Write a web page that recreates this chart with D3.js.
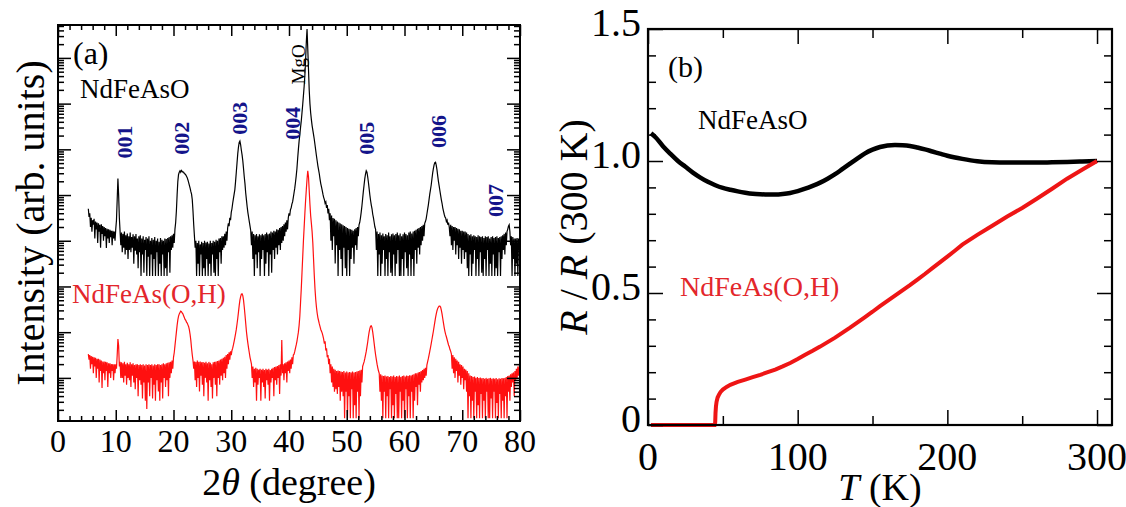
<!DOCTYPE html>
<html><head><meta charset="utf-8">
<script src="https://cdn.jsdelivr.net/npm/d3@7"></script>
<style>
body{margin:0;background:#fff}
svg{display:block}
</style>
</head><body>
<svg id="c" width="1126" height="507"></svg>
<script>
// ---------- Panel (a): XRD, log10(intensity) ----------
// each segment: [start 2theta, values at 0.125 degree steps]
const xrdStep = 0.125;
const xrdBlack = [
 [5.25,[4.70,4.52,4.60,4.30,4.50,4.20,4.45,4.35,4.48,4.05,4.42,4.25,4.40,3.95,4.38,4.20,4.35,3.85,4.36,4.15,4.32,4.00,4.30,4.10,4.28,3.84,4.26,4.05,4.25,3.95,4.24,4.08,4.22,3.90,4.22,4.05,4.20,4.00,4.25,4.45,4.90,5.36,5.00,4.50,4.20,3.90]],
 [11.0,[4.18,3.75,4.15,3.85,4.2,3.7,4.12,3.8,4.16,3.6,4.1,3.8,4.18,3.75,4.08,3.85,4.14,3.5,4.1,3.78,4.15,3.7,4.05,3.4,4.1,3.75,4.12,3.23,4.05,3.7,4.1,3.3,4.02,3.8,4.08,3.23,4.05,3.65,4.1,3.23,4.0,3.7,4.06,3.23,4.02,3.6,4.08,3.23,4.0,3.75,4.05,3.23,3.98,3.5,4.06,3.23,4.02,3.7,4.0,3.23,4.05,3.4,4.04,3.23,4.06,3.75,4.08,3.3,4.1,3.8,4.12,3.85,4.15,3.95,4.25]],
 [20.375,[4.4,4.65,5.0,5.3,5.45,5.5,5.53,5.5,5.54,5.52,5.5,5.5,5.47,5.46,5.44,5.41,5.38,5.33,5.27,5.21,5.15,5.08,5.02,4.9,4.65,4.35,4.1,3.85]],
 [23.875,[4.0,3.23,3.95,3.5,4.0,3.23,3.92,3.7,3.98,3.23,3.95,3.4,4.0,3.23,3.96,3.6,3.98,3.23,3.94,3.5,4.0,3.23,3.95,3.7,4.0,3.3,3.98,3.23,4.02,3.6,4.0,3.23,4.05,3.75,4.06,3.5,4.1,3.8,4.1,3.85,4.15,3.9,4.2,4.0,4.28]],
 [29.5,[4.38,4.32,4.5,4.45,4.62,4.7,4.82,4.92,5.02,5.12,5.3,5.5,5.7,5.9,6.05,6.15,6.18,6.1,5.98,5.88,5.75,5.58,5.4,5.25,5.05,4.9,4.75,4.62,4.52,4.42,4.32,4.22,3.9]],
 [33.625,[4.2,3.6,4.15,3.23,4.12,3.7,4.15,3.4,4.1,3.75,4.14,3.23,4.12,3.6,4.15,3.8,4.12,3.23,4.15,3.5,4.18,3.75,4.14,3.23,4.16,3.7,4.2,3.3,4.18,3.8,4.22,3.6,4.2,3.85,4.25,3.7,4.24,3.9,4.28,3.8,4.3,3.95,4.32,4.0,4.36,4.1,4.4,4.2,4.45,4.25,4.5]],
 [40.0,[4.6,4.55,4.68,4.72,4.8,4.85,4.95,5.05,5.15,5.28,5.42,5.58,5.8,6.0,6.18,6.32,6.48,6.62,6.8,6.98,7.18,7.38,7.62,7.95,8.35,8.63,8.2,7.75,7.3,7.0,6.8,6.65,6.52,6.42,6.32,6.22,6.1,5.98,5.86,5.75,5.64,5.55,5.46,5.35,5.25,5.18,5.1,5.02,4.95,4.9,4.82,4.85,4.72,4.78,4.6,4.7,4.45]],
 [47.125,[4.6,4.0,4.55,3.8,4.5,4.1,4.48,3.5,4.45,3.9,4.42,3.23,4.4,3.8,4.38,3.6,4.36,3.23,4.34,3.85,4.32,3.4,4.3,3.23,4.28,3.8,4.26,3.23,4.25,3.6,4.24,3.85,4.22,3.5,4.25,3.9,4.28,3.8,4.3,4.1]],
 [52.125,[4.35,4.4,4.5,4.62,4.76,4.92,5.08,5.22,5.36,5.46,5.53,5.5,5.4,5.28,5.14,5.0,4.88,4.78,4.7,4.58,4.5,4.4,4.3,4.25,3.8]],
 [55.25,[4.2,3.23,4.15,3.7,4.18,3.23,4.12,3.5,4.16,3.8,4.1,3.23,4.15,3.6,4.12,3.23,4.18,3.75,4.1,3.3,4.14,3.23,4.16,3.7,4.12,3.23,4.15,3.5,4.18,3.8,4.12,3.23,4.16,3.23,4.1,3.6,4.14,3.23,4.18,3.75,4.15,3.4,4.12,3.23,4.18,3.7,4.2,3.23,4.16,3.6,4.2,3.23,4.22,3.8,4.24,3.5,4.26,3.85,4.28,3.7,4.3,3.9,4.32,4.0,4.35,4.1]],
 [63.5,[4.38,4.42,4.48,4.58,4.68,4.78,4.9,5.02,5.12,5.22,5.35,5.48,5.58,5.66,5.71,5.72,5.65,5.55,5.42,5.3,5.2,5.1,5.0,4.9,4.82,4.72,4.65,4.58,4.52,4.5,4.42,4.45,4.35,4.4,4.3,4.1]],
 [68.0,[4.35,3.9,4.32,3.8,4.3,4.0,4.3,3.7,4.28,3.9,4.26,3.6,4.25,3.85,4.22,3.5,4.22,3.8,4.2,3.6,4.2,3.75,4.18,3.4]],
 [71.0,[4.15,3.23,4.12,3.7,4.14,3.23,4.1,3.5,4.12,3.8,4.1,3.23,4.08,3.6,4.12,3.23,4.1,3.75,4.08,3.3,4.1,3.23,4.06,3.6,4.1,3.23,4.08,3.8,4.1,3.23,4.05,3.5,4.08,3.23,4.1,3.7,4.06,3.23,4.08,3.4,4.1,3.23,4.06,3.75,4.08,3.23,4.1,3.6,4.12,3.8,4.15,3.7,4.18,3.9]],
 [77.75,[4.2,4.25,4.32,4.35,4.2,3.9,4.1,3.23,4.08,3.6,4.05,3.23,4.05,3.5,4.06,3.23,4.05,3.8,4.08]]
];
const xrdRed = [
 [5.25,[1.52,1.4,1.5,1.2,1.48,1.3,1.46,1.1,1.45,1.25,1.44,1.0,1.42,1.2,1.42,0.9,1.4,1.15,1.38,0.78,1.36,1.1,1.36,0.95,1.35,1.15,1.34,0.8,1.32,1.1,1.32,1.0,1.3,1.15,1.3,0.95,1.3,1.1,1.3,1.2,1.5,1.85,1.7,1.25,1.35,1.0]],
 [11.0,[1.34,1.0,1.32,0.9,1.35,1.05,1.3,0.85,1.33,1.0,1.3,0.95,1.34,0.8,1.3,1.05,1.32,0.9,1.28,0.75,1.3,1.0,1.3,0.6,1.28,0.95,1.3,0.85,1.28,0.55,1.3,0.9,1.27,0.5,1.3,0.32,1.28,0.9,1.3,0.6,1.28,1.0,1.3,0.55,1.27,0.85,1.3,0.5,1.28,0.95,1.3,0.7,1.3,0.5,1.28,0.9,1.3,0.55,1.32,1.0,1.3,0.8,1.32,0.95,1.33,0.6,1.34,1.0,1.35,1.1,1.38,1.2,1.45]],
 [20.125,[1.55,1.7,1.85,2.0,2.15,2.27,2.35,2.4,2.43,2.46,2.45,2.42,2.4,2.36,2.32,2.28,2.26,2.22,2.2,2.16,2.12,2.05,1.95,1.82,1.65,1.5,1.38,1.2,1.36,0.95]],
 [23.875,[1.35,0.8,1.38,1.0,1.35,0.7,1.36,1.05,1.34,0.85,1.35,0.6,1.33,1.0,1.35,0.9,1.32,0.5,1.35,0.95,1.33,0.8,1.3,0.55,1.34,1.0,1.35,0.85,1.36,0.6,1.37,1.0,1.38,0.85,1.4,1.05,1.42,0.95,1.44,1.1,1.46,1.0,1.5,1.2,1.52,1.3,1.56,1.4,1.58,1.5]],
 [30.125,[1.6,1.65,1.72,1.8,1.88,1.97,2.06,2.18,2.3,2.44,2.58,2.7,2.78,2.83,2.84,2.8,2.7,2.55,2.38,2.2,2.02,1.88,1.76,1.65,1.55,1.45,1.38,1.3,1.0]],
 [33.75,[1.25,0.8,1.2,0.9,1.22,0.5,1.2,0.85,1.18,1.0,1.2,0.5,1.18,0.9,1.2,0.8,1.17,0.55,1.2,0.95,1.18,0.85,1.2,0.5,1.17,0.9,1.2,1.0,1.22,0.6,1.24,0.95,1.25,0.85,1.26,1.0,1.28,0.65,1.3,1.05,1.83,1.1,1.3,0.95,1.32,1.1,1.34,0.9,1.36,1.15,1.38,1.1,1.4,1.2,1.45,1.3,1.5]],
 [40.875,[1.52,1.58,1.65,1.72,1.8,1.9,2.0,2.15,2.35,2.65,2.95,3.3,3.65,4.0,4.3,4.6,4.88,5.12,5.35,5.53,5.4,5.1,4.8,4.55,4.38,4.2,3.95,3.6,3.25,2.95,2.72,2.55,2.42,2.32,2.25,2.18,2.12,2.06,2.02,1.98,1.92,1.85,1.75,1.8,1.6,1.65,1.45,1.5,1.3,1.42,1.1,1.3,0.9,1.25,0.8]],
 [47.75,[1.2,0.7,1.18,0.75,1.15,0.65,1.16,0.8,1.15,0.5,1.14,0.7,1.13,0.6,1.15,0.12,1.12,0.7,1.14,0.12,1.12,0.6,1.13,0.12,1.12,0.75,1.14,0.12,1.12,0.4,1.13,0.12,1.14,0.7,1.15,0.12,1.16,0.6,1.18,0.9]],
 [52.75,[1.25,1.3,1.35,1.42,1.5,1.58,1.68,1.78,1.9,2.0,2.08,2.13,2.14,2.1,2.0,1.88,1.75,1.62,1.5,1.4,1.3,1.22,1.15,1.1,0.7,1.08]],
 [56.0,[0.5,1.05,0.12,1.04,0.7,1.05,0.12,1.03,0.6,1.04,0.12,1.02,0.75,1.04,0.12,1.03,0.4,1.05,0.12,1.02,0.65,1.04,0.12,1.03,0.12,1.05,0.7,1.02,0.12,1.04,0.5,1.05,0.12,1.03,0.75,1.05,0.12,1.04,0.6,1.06,0.12,1.05,0.7,1.07,0.12,1.08,0.5,1.1,0.8,1.1,0.4,1.12,0.85,1.13,0.7,1.15,0.9,1.17,0.95,1.2,1.0,1.22,1.05]],
 [63.875,[1.28,1.35,1.42,1.5,1.58,1.66,1.75,1.84,1.93,2.02,2.12,2.22,2.32,2.4,2.47,2.52,2.55,2.57,2.57,2.55,2.48,2.4,2.3,2.2,2.1,2.02,1.95,1.9,1.84,1.78,1.72,1.68,1.62,1.58,1.52]],
 [68.25,[1.2,1.5,1.1,1.45,1.0,1.42,1.15,1.38,0.9,1.35,1.05,1.3,0.85,1.28,1.0,1.25,0.75,1.2,0.95,1.18,0.7,1.15]],
 [71.0,[0.12,1.1,0.6,1.05,0.12,1.04,0.5,1.02,0.12,1.03,0.7,1.0,0.12,1.02,0.4,1.0,0.12,1.01,0.65,0.99,0.12,1.0,0.5,0.98,0.12,1.0,0.7,0.98,0.12,0.99,0.12,1.0,0.55,0.98,0.12,0.99,0.7,0.98,0.12,1.0,0.45,0.97,0.12,0.99,0.65,0.98,0.12,1.0,0.5,0.99,0.12,1.0,0.6,1.02,0.12,1.04,0.7,1.05,0.5]],
 [78.375,[1.08,0.8,1.1,0.9,1.12,0.6,1.15,0.95,1.2,1.0,1.25,1.05,1.24,1.22]]
];

const xTicksA = [0,10,20,30,40,50,60,70,80];
const peakNames = ["001","002","003","004","005","006","007"];
const peakLabelAngle = [11.4,21.3,31.4,40.5,53.3,65.8,75.7];
const peakLabelLog = [5.80,5.88,6.32,6.21,5.88,6.03,4.52];

// ---------- Panel (b): normalized resistance ----------
const rBlack = [[2,1.105],[5,1.09],[10,1.056],[15,1.027],[20,1.0],[25,0.978],[30,0.956],[35,0.937],[40,0.921],[45,0.908],[50,0.898],[55,0.891],[60,0.885],[65,0.88],[70,0.876],[75,0.874],[80,0.873],[85,0.873],[90,0.875],[95,0.879],[100,0.886],[105,0.895],[110,0.906],[115,0.918],[120,0.933],[125,0.95],[130,0.97],[135,0.99],[140,1.01],[145,1.029],[150,1.043],[155,1.053],[160,1.059],[165,1.061],[170,1.06],[175,1.057],[180,1.051],[185,1.044],[190,1.036],[195,1.028],[200,1.02],[210,1.008],[220,0.999],[230,0.995],[240,0.994],[250,0.994],[260,0.994],[270,0.995],[280,0.996],[290,0.998],[300,1.0]];
const rRed = [[2,0],[44.5,0],[44.9,0.01],[45.1,0.045],[45.4,0.07],[45.8,0.088],[46.5,0.104],[47.5,0.116],[48.5,0.125],[50,0.134],[52.5,0.144],[55,0.152],[60,0.163],[65,0.172],[70,0.181],[75,0.19],[80,0.2],[85,0.21],[90,0.222],[95,0.235],[100,0.25],[105,0.266],[110,0.281],[115,0.297],[120,0.314],[125,0.331],[130,0.35],[135,0.369],[140,0.389],[145,0.409],[150,0.429],[155,0.45],[160,0.47],[165,0.49],[170,0.51],[175,0.53],[180,0.551],[185,0.572],[190,0.594],[195,0.616],[200,0.638],[205,0.66],[210,0.683],[220,0.72],[230,0.755],[240,0.79],[250,0.822],[260,0.858],[270,0.895],[280,0.933],[290,0.967],[300,1.0]];
const xTicksB = [0,100,200,300];
const yTicksB = [0,0.5,1.0,1.5];
const yTickLabelsB = ["0","0.5","1.0","1.5"];

// ---------- drawing ----------
const FONT = "Liberation Serif";
const svg = d3.select("#c");
const RED = "#ff1010", NAVY = "#14148a", TXTRED = "#e3262b";
const flatten = segs => segs.flatMap(([s,vals]) => vals.map((v,i)=>[s+i*xrdStep, v]));

// Panel a
const A = {l:58, r:520, t:25, b:421};
const xA = d3.scaleLinear().domain([0,80]).range([A.l,A.r]);
const yA = d3.scaleLog().domain([Math.pow(10,0.057), Math.pow(10,8.72)]).range([A.b,A.t]);
const gA = svg.append("g");
gA.append("clipPath").attr("id","clipA").append("rect")
  .attr("x",A.l).attr("y",A.t).attr("width",A.r-A.l).attr("height",A.b-A.t);
const lineA = d3.line().x(d=>xA(d[0])).y(d=>yA(Math.pow(10,d[1])));
gA.append("path").datum(flatten(xrdBlack)).attr("d",lineA).attr("fill","none")
  .attr("stroke","#000").attr("stroke-width",1.2).attr("clip-path","url(#clipA)");
gA.append("path").datum(flatten(xrdRed)).attr("d",lineA).attr("fill","none")
  .attr("stroke",RED).attr("stroke-width",1.2).attr("clip-path","url(#clipA)");

function styleAxis(g){ g.select(".domain").remove(); g.selectAll("line").attr("stroke","#000").attr("stroke-width",1.5); g.selectAll("text").remove(); }
const xMinorA = d3.range(0,81,2).filter(v=>v%10!==0);
gA.append("g").attr("transform",`translate(0,${A.b})`).call(d3.axisBottom(xA).tickValues(xMinorA).tickSize(-5)).call(styleAxis);
gA.append("g").attr("transform",`translate(0,${A.b})`).call(d3.axisBottom(xA).tickValues(xTicksA).tickSize(-11)).call(styleAxis);
gA.append("g").attr("transform",`translate(0,${A.t})`).call(d3.axisTop(xA).tickValues(xMinorA).tickSize(-5)).call(styleAxis);
gA.append("g").attr("transform",`translate(0,${A.t})`).call(d3.axisTop(xA).tickValues(xTicksA).tickSize(-11)).call(styleAxis);
const dom = yA.domain();
const logMajor = [], logMinor = [];
for (let k=0;k<=9;k++) for (let m=1;m<=9;m++){ const v=m*Math.pow(10,k); if (v>=dom[0] && v<=dom[1]) (m===1?logMajor:logMinor).push(v); }
gA.append("g").attr("transform",`translate(${A.l},0)`).call(d3.axisLeft(yA).tickValues(logMinor).tickSize(-6)).call(styleAxis);
gA.append("g").attr("transform",`translate(${A.l},0)`).call(d3.axisLeft(yA).tickValues(logMajor).tickSize(-13)).call(styleAxis);
gA.append("g").attr("transform",`translate(${A.r},0)`).call(d3.axisRight(yA).tickValues(logMinor).tickSize(-6)).call(styleAxis);
gA.append("g").attr("transform",`translate(${A.r},0)`).call(d3.axisRight(yA).tickValues(logMajor).tickSize(-13)).call(styleAxis);
gA.append("rect").attr("x",A.l).attr("y",A.t).attr("width",A.r-A.l).attr("height",A.b-A.t)
  .attr("fill","none").attr("stroke","#000").attr("stroke-width",2);
gA.selectAll("text.xl").data(xTicksA).join("text").attr("class","xl")
  .attr("x",d=>xA(d)).attr("y",452).attr("text-anchor","middle").attr("font-size",32).text(d=>d);
const tA = gA.append("text").attr("x",(A.l+A.r)/2).attr("y",495).attr("text-anchor","middle").attr("font-size",38);
tA.append("tspan").text("2");
tA.append("tspan").attr("font-style","italic").text("\u03B8");
tA.append("tspan").text(" (degree)");
gA.append("text").attr("transform",`translate(44,${(A.t+A.b)/2}) rotate(-90)`).attr("text-anchor","middle")
  .attr("font-size",40).text("Intensity (arb. units)");
gA.append("text").attr("x",73).attr("y",64).attr("font-size",32).text("(a)");
gA.append("text").attr("x",80).attr("y",98).attr("font-size",27).text("NdFeAsO");
gA.append("text").attr("x",72).attr("y",303).attr("font-size",27).attr("fill",TXTRED).text("NdFeAs(O,H)");
gA.selectAll("text.pk").data(peakNames).join("text").attr("class","pk")
  .attr("transform",(d,i)=>`translate(${xA(peakLabelAngle[i])},${yA(Math.pow(10,peakLabelLog[i]))}) rotate(-90)`)
  .attr("dy","0.35em").attr("font-size",22).attr("font-weight","bold").attr("fill",NAVY).text(d=>d);
gA.append("text").attr("transform",`translate(${xA(41.6)},${yA(Math.pow(10,7.42))}) rotate(-90)`)
  .attr("dy","0.35em").attr("font-size",19).text("MgO");

// Panel b
const B = {l:648, r:1112, t:29, b:425};
const xB = d3.scaleLinear().domain([0,310]).range([B.l,B.r]);
const yB = d3.scaleLinear().domain([0,1.5]).range([B.b,B.t]);
const gB = svg.append("g");
const lineB = d3.line().x(d=>xB(d[0])).y(d=>yB(d[1])).curve(d3.curveMonotoneX);
gB.append("path").datum(rBlack).attr("d",lineB).attr("fill","none").attr("stroke","#000").attr("stroke-width",4.5);
gB.append("path").datum(rRed).attr("d",d3.line().x(d=>xB(d[0])).y(d=>yB(d[1]))).attr("fill","none").attr("stroke","#ee1515").attr("stroke-width",4);
const xMinorB = [50,150,250];
const yMinorB = d3.range(1,15).filter(v=>v%5!==0).map(v=>v/10);
gB.append("g").attr("transform",`translate(0,${B.b})`).call(d3.axisBottom(xB).tickValues(xMinorB).tickSize(-9)).call(styleAxis);
gB.append("g").attr("transform",`translate(0,${B.b})`).call(d3.axisBottom(xB).tickValues(xTicksB).tickSize(-15)).call(styleAxis);
gB.append("g").attr("transform",`translate(0,${B.t})`).call(d3.axisTop(xB).tickValues(xMinorB).tickSize(-9)).call(styleAxis);
gB.append("g").attr("transform",`translate(0,${B.t})`).call(d3.axisTop(xB).tickValues(xTicksB).tickSize(-15)).call(styleAxis);
gB.append("g").attr("transform",`translate(${B.l},0)`).call(d3.axisLeft(yB).tickValues(yMinorB).tickSize(-8)).call(styleAxis);
gB.append("g").attr("transform",`translate(${B.l},0)`).call(d3.axisLeft(yB).tickValues(yTicksB).tickSize(-15)).call(styleAxis);
gB.append("g").attr("transform",`translate(${B.r},0)`).call(d3.axisRight(yB).tickValues(yMinorB).tickSize(-8)).call(styleAxis);
gB.append("g").attr("transform",`translate(${B.r},0)`).call(d3.axisRight(yB).tickValues(yTicksB).tickSize(-15)).call(styleAxis);
gB.append("rect").attr("x",B.l).attr("y",B.t).attr("width",B.r-B.l).attr("height",B.b-B.t)
  .attr("fill","none").attr("stroke","#000").attr("stroke-width",2.2);
gB.selectAll("text.xl").data(xTicksB).join("text").attr("class","xl")
  .attr("x",d=>xB(d)).attr("y",470).attr("text-anchor","middle").attr("font-size",40).text(d=>d);
gB.selectAll("text.yl").data(yTicksB).join("text").attr("class","yl")
  .attr("x",B.l-7).attr("y",d=>yB(d)+7).attr("text-anchor","end").attr("font-size",40).text((d,i)=>yTickLabelsB[i]);
const tB = gB.append("text").attr("x",(B.l+B.r)/2).attr("y",500).attr("text-anchor","middle").attr("font-size",38);
tB.append("tspan").attr("font-style","italic").text("T");
tB.append("tspan").text(" (K)");
const yT = gB.append("text").attr("transform",`translate(587,${(B.t+B.b)/2}) rotate(-90)`).attr("text-anchor","middle").attr("font-size",40);
yT.append("tspan").attr("font-style","italic").text("R");
yT.append("tspan").text(" / ");
yT.append("tspan").attr("font-style","italic").text("R");
yT.append("tspan").text(" (300 K)");
gB.append("text").attr("x",668).attr("y",77).attr("font-size",30).text("(b)");
gB.append("text").attr("x",698).attr("y",129).attr("font-size",27).text("NdFeAsO");
gB.append("text").attr("x",680).attr("y",296).attr("font-size",28).attr("fill",TXTRED).text("NdFeAs(O,H)");

svg.selectAll("text").attr("font-family",FONT);
</script>
</body></html>
